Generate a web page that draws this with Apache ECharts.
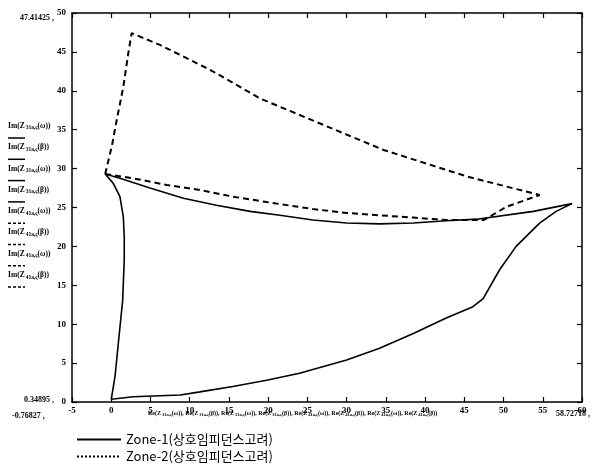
<!DOCTYPE html>
<html>
<head>
<meta charset="utf-8">
<script src="https://cdn.jsdelivr.net/npm/echarts@6/dist/echarts.min.js"></script>
<style>
  html, body { margin: 0; padding: 0; background: #fff; }
  #main { width: 592px; height: 470px; }
</style>
</head>
<body>
<div id="main"></div>
<script>
// 읽어낸 데이터 (Re, Im)
var zone1Left = [[-0.77, 29.3], [0.26, 28.1], [1.11, 26.4], [1.54, 23.8], [1.66, 21.2], [1.66, 18.3],
  [1.46, 13.1], [0.9, 7.5], [0.48, 3.25], [0.06, 0.7], [0, 0.35]];
var zone1Bottom = [[0, 0.35], [2.8, 0.68], [8.8, 0.9], [11.3, 1.3], [15.5, 2.0], [19.8, 2.8], [24.0, 3.7],
  [30.0, 5.4], [34.2, 6.9], [38.5, 8.8], [42.7, 10.8], [46.1, 12.25], [47.4, 13.3], [49.5, 17.0],
  [51.6, 20.0], [54.6, 23.0], [56.7, 24.5], [58.73, 25.5]];
var zone1Upper = [[-0.77, 29.3], [1.11, 28.75], [4.94, 27.5], [9.2, 26.2], [13.4, 25.3], [17.7, 24.5],
  [21.5, 24.0], [25.7, 23.4], [30.0, 23.0], [34.2, 22.9], [38.5, 23.0], [42.7, 23.3], [46.6, 23.5],
  [53.8, 24.5], [58.73, 25.5]];
var zone2Peak = [[-0.77, 29.3], [0.1, 33.0], [0.69, 36.2], [1.54, 40.5], [2.17, 44.8], [2.6, 47.41],
  [6.2, 45.9], [12.6, 42.7], [19.0, 39.0], [34.7, 32.4], [45.3, 29.0], [54.6, 26.6]];
var zone2Lower = [[-0.77, 29.3], [2.8, 28.75], [7.06, 27.9], [11.3, 27.25], [15.5, 26.4], [19.8, 25.7],
  [25.7, 24.8], [30.0, 24.3], [34.2, 24.0], [38.5, 23.7], [42.7, 23.4], [47.5, 23.4], [50.4, 25.1],
  [54.6, 26.6]];

var zoneNames = ['Zone-1(상호임피던스고려)', 'Zone-2(상호임피던스고려)'];
var imLabels = ['31a,ς(ω)', '31a,ς(β)', '31a,ς(ω)', '31a,ς(β)', '41a,ς(ω)', '41a,ς(β)', '41a,ς(ω)', '41a,ς(β)'];
var rangeLabels = { ymax: '47.41425', ymin: '0.34895', xmin: '-0.76827', xmax: '58.72718' };

var chart = echarts.init(document.getElementById('main'));

var tickFont = { color: '#000', fontFamily: 'Liberation Serif', fontWeight: 'bold', fontSize: 9 };
var axisLine = { onZero: false, lineStyle: { color: '#000', width: 1.5 } };
var tick = { inside: true, length: 5, lineStyle: { color: '#000', width: 1.2 } };

function makeLine(name, data, dashed) {
  return {
    name: name,
    type: 'line',
    data: data,
    symbol: 'none',
    smooth: false,
    lineStyle: { color: '#000', width: dashed ? 2 : 1.6, type: dashed ? [6, 4] : 'solid' },
    animation: false
  };
}

// 왼쪽 Im 라벨 + 선 견본
var graphics = [];
imLabels.forEach(function (s, i) {
  var y = 127 + i * 21.3;
  var p = s.indexOf('(');
  graphics.push({
    type: 'text', left: 8, top: y - 5,
    style: {
      text: 'Im(Z{s|' + s.slice(0, p) + '}' + s.slice(p) + ')',
      fill: '#000', font: 'bold 7.5px "Liberation Serif"',
      rich: { s: { fontSize: 5.5, fontWeight: 'bold', fontFamily: 'Liberation Serif', padding: [4, 0, 0, 1] } }
    }
  });
  graphics.push({
    type: 'line',
    shape: { x1: 8, y1: y + 11, x2: 25, y2: y + 11 },
    style: { stroke: '#000', lineWidth: 1.5, lineDash: i < 4 ? null : [3, 2] }
  });
});

var reParts = [];
imLabels.forEach(function (s) {
  var p = s.indexOf('(');
  reParts.push('Re(Z{s|' + s.slice(0, p) + '}' + s.slice(p) + ')');
});
graphics.push({
  type: 'text', left: 148, top: 410,
  style: {
    text: reParts.join(', '), fill: '#000', font: 'bold 6px "Liberation Serif"',
    rich: { s: { fontSize: 4.5, fontWeight: 'bold', fontFamily: 'Liberation Serif', padding: [3, 0, 0, 1] } }
  }
});
graphics.push({ type: 'text', left: 20, top: 14, style: { text: rangeLabels.ymax + ' ,', fill: '#000', font: 'bold 8px "Liberation Serif"' } });
graphics.push({ type: 'text', left: 24, top: 396, style: { text: rangeLabels.ymin + ' ,', fill: '#000', font: 'bold 8px "Liberation Serif"' } });
graphics.push({ type: 'text', left: 12, top: 412, style: { text: rangeLabels.xmin + ' ,', fill: '#000', font: 'bold 8px "Liberation Serif"' } });
graphics.push({ type: 'text', left: 556, top: 410, style: { text: rangeLabels.xmax + ' ,', fill: '#000', font: 'bold 8px "Liberation Serif"' } });

var option = {
  backgroundColor: '#fff',
  animation: false,
  grid: { left: 72, right: 10, top: 13, bottom: 68, containLabel: false },
  legend: {
    orient: 'vertical', left: 76, top: 433, itemGap: 4, padding: 0,
    itemWidth: 44, itemHeight: 14,
    textStyle: { color: '#000', fontFamily: 'Noto Sans CJK KR', fontSize: 13 },
    itemStyle: { opacity: 0 },
    data: [
      { name: zoneNames[0], lineStyle: { width: 2, type: 'solid' } },
      { name: zoneNames[1], lineStyle: { width: 2, type: [2, 2] } }
    ]
  },
  xAxis: [{
    type: 'value', min: -5, max: 60, interval: 5,
    axisLine: axisLine, splitLine: { show: false }, axisTick: tick,
    axisLabel: Object.assign({ margin: 4 }, tickFont)
  }, {
    type: 'value', position: 'top', min: -5, max: 60, interval: 5,
    axisLine: axisLine, splitLine: { show: false }, axisTick: tick,
    axisLabel: { show: false }
  }],
  yAxis: [{
    type: 'value', min: 0, max: 50, interval: 5,
    axisLine: axisLine, splitLine: { show: false }, axisTick: tick,
    axisLabel: Object.assign({ margin: 6 }, tickFont)
  }, {
    type: 'value', position: 'right', min: 0, max: 50, interval: 5,
    axisLine: axisLine, splitLine: { show: false }, axisTick: tick,
    axisLabel: { show: false }
  }],
  series: [
    makeLine(zoneNames[0], zone1Left, false),
    makeLine(zoneNames[0], zone1Bottom, false),
    makeLine(zoneNames[0], zone1Upper, false),
    makeLine(zoneNames[1], zone2Peak, true),
    makeLine(zoneNames[1], zone2Lower, true)
  ],
  graphic: graphics
};
chart.setOption(option);
</script>
</body>
</html>
